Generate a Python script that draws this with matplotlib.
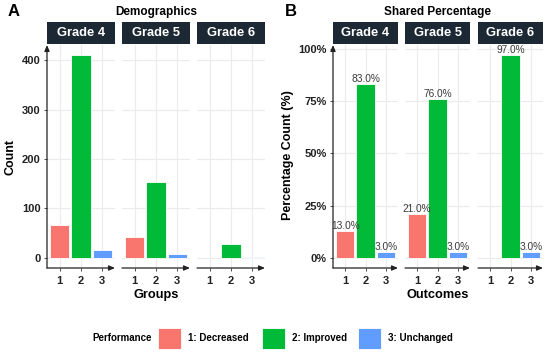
import numpy as np
import matplotlib
matplotlib.use("Agg")
import matplotlib.pyplot as plt
from matplotlib.patches import Rectangle

plt.rcParams['font.family'] = ['Liberation Sans', 'DejaVu Sans']

grades = ["Grade 4", "Grade 5", "Grade 6"]
groups = ["1", "2", "3"]
counts = {
    "Grade 4": [66, 410, 16],
    "Grade 5": [43, 153, 7],
    "Grade 6": [np.nan, 29, 2],
}
percents = {
    "Grade 4": [13.0, 83.0, 3.0],
    "Grade 5": [21.0, 76.0, 3.0],
    "Grade 6": [np.nan, 97.0, 3.0],
}
legend_labels = ["1: Decreased", "2: Improved", "3: Unchanged"]
colors = ["#F8766D", "#00BA38", "#619CFF"]

W, H = 550, 356
fig = plt.figure(figsize=(W / 100, H / 100), dpi=100)

def px_axes(x0, y0, x1, y1):
    return fig.add_axes([x0 / W, 1 - y1 / H, (x1 - x0) / W, (y1 - y0) / H])

STRIP_COL = "#1C2833"
TICK_COL = "#222222"
GRID_COL = "#EBEBEB"
top, bot = 45, 268
strip_top, strip_bot = 22, 44

def draw_panel(starts, width, data, ylim, yticks, yticklabels, pct):
    axes = []
    for i, g in enumerate(grades):
        x0 = starts[i]
        ax = px_axes(x0, top, x0 + width, bot)
        vals = data[g]
        xs = np.arange(1, 4)
        for xv, v, c in zip(xs, vals, colors):
            if np.isnan(v):
                continue
            ax.bar(xv, v, width=0.9, color=c, edgecolor="white", linewidth=0.6, zorder=3)
            if pct:
                ax.text(xv, v, f"{v:.1f}%", ha="center", va="bottom", fontsize=7.3,
                        color="#3A3A3A", zorder=4)
        ax.set_xlim(0.4, 3.6)
        ax.set_ylim(*ylim)
        ax.set_xticks(xs)
        ax.set_xticklabels(groups, fontsize=8, fontweight="bold", color=TICK_COL)
        ax.set_yticks(yticks)
        ax.grid(True, color=GRID_COL, linewidth=0.8, zorder=0)
        ax.set_axisbelow(True)
        for s in ax.spines.values():
            s.set_visible(False)
        ax.tick_params(axis="x", length=2.5, width=0.6, color="#333333", pad=3)
        if i == 0:
            ax.set_yticklabels(yticklabels, fontsize=8, fontweight="bold", color=TICK_COL)
            ax.tick_params(axis="y", length=2.5, width=0.6, color="#333333", pad=2)
            ax.annotate("", xy=(0, 1.0), xytext=(0, 0), xycoords="axes fraction",
                        arrowprops=dict(arrowstyle="-|>,head_length=0.35,head_width=0.15",
                                        color="#222222", lw=0.9, shrinkA=0, shrinkB=0))
        else:
            ax.tick_params(axis="y", length=0, labelleft=False)
        ax.annotate("", xy=(1.0, 0), xytext=(0, 0), xycoords="axes fraction",
                    arrowprops=dict(arrowstyle="-|>,head_length=0.35,head_width=0.15",
                                    color="#222222", lw=0.9, shrinkA=0, shrinkB=0))
        # strip
        sax = px_axes(x0, strip_top, x0 + width, strip_bot)
        sax.set_xticks([]); sax.set_yticks([])
        sax.set_facecolor(STRIP_COL)
        for s in sax.spines.values():
            s.set_visible(False)
        sax.text(0.5, 0.5, g, ha="center", va="center", color="white",
                 fontsize=9.3, fontweight="bold", transform=sax.transAxes)
        axes.append(ax)
    return axes

# Panel A
draw_panel([47, 122, 197], 68, counts, (-20.5, 430.5), [0, 100, 200, 300, 400],
           ["0", "100", "200", "300", "400"], pct=False)
fig.text(156 / W, 1 - 12 / H, "Demographics", ha="center", va="center",
         fontsize=8.5, fontweight="bold")
fig.text(8 / W, 1 - 12 / H, "A", ha="left", va="center", fontsize=12, fontweight="bold")
fig.text(10 / W, 1 - 157 / H, "Count", ha="center", va="center", rotation=90,
         fontsize=9, fontweight="bold")
fig.text(156 / W, 1 - 295 / H, "Groups", ha="center", va="center",
         fontsize=9.2, fontweight="bold")

# Panel B
draw_panel([333, 405, 478], 65, percents, (-4.85, 101.85), [0, 25, 50, 75, 100],
           ["0%", "25%", "50%", "75%", "100%"], pct=True)
fig.text(438 / W, 1 - 12 / H, "Shared Percentage", ha="center", va="center",
         fontsize=8.5, fontweight="bold")
fig.text(285 / W, 1 - 12 / H, "B", ha="left", va="center", fontsize=12, fontweight="bold")
fig.text(288 / W, 1 - 155 / H, "Percentage Count (%)", ha="center", va="center",
         rotation=90, fontsize=9, fontweight="bold")
fig.text(438 / W, 1 - 295 / H, "Outcomes", ha="center", va="center",
         fontsize=9.2, fontweight="bold")

# Legend
ly = 338
fig.text(152 / W, 1 - ly / H, "Performance", ha="right", va="center",
         fontsize=7, fontweight="bold")
key_x = [158, 262, 358]
for kx, c, lab in zip(key_x, colors, legend_labels):
    fig.patches.append(Rectangle((kx / W, 1 - 349 / H), 23 / W, 21 / H,
                                 transform=fig.transFigure, facecolor=c,
                                 edgecolor="white", linewidth=0.6))
    fig.text((kx + 30) / W, 1 - ly / H, lab, ha="left", va="center",
             fontsize=7, fontweight="bold")

fig.savefig("out.png", dpi=100, facecolor="white")
